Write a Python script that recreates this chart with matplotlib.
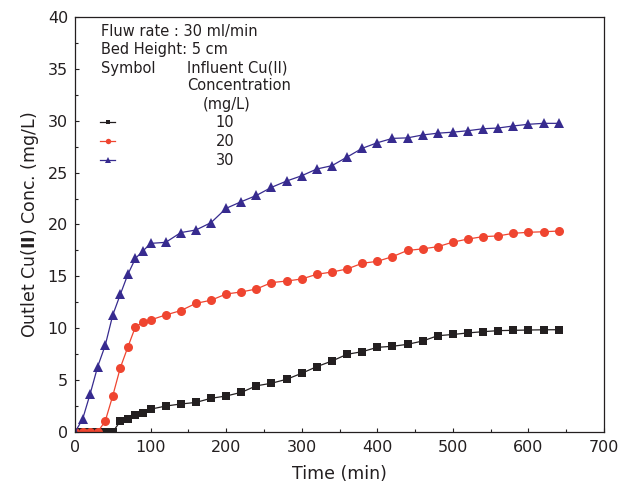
import matplotlib
matplotlib.use("Agg")
import matplotlib.pyplot as plt
from matplotlib.ticker import MultipleLocator

plt.rcParams['font.family'] = ['DejaVu Sans']
plt.rcParams['mathtext.fontset'] = 'dejavusans'

time = [0, 10, 20, 30, 40, 50, 60, 70, 80, 90, 100,
        120, 140, 160, 180, 200, 220, 240, 260, 280, 300,
        320, 340, 360, 380, 400, 420, 440, 460, 480, 500,
        520, 540, 560, 580, 600, 620, 640]

conc_10 = [0, 0, 0, 0, 0, 0, 1.05, 1.3, 1.6, 1.85, 2.2,
           2.5, 2.7, 2.85, 3.25, 3.47, 3.82, 4.45, 4.7, 5.08, 5.66,
           6.3, 6.84, 7.49, 7.74, 8.16, 8.26, 8.45, 8.77, 9.28, 9.4,
           9.55, 9.67, 9.77, 9.8, 9.83, 9.85, 9.86]

conc_20 = [0, 0, 0, 0, 1.05, 3.5, 6.2, 8.2, 10.15, 10.57, 10.8,
           11.28, 11.7, 12.4, 12.7, 13.3, 13.5, 13.78, 14.4, 14.55, 14.75,
           15.2, 15.42, 15.71, 16.26, 16.45, 16.9, 17.5, 17.65, 17.86, 18.3,
           18.6, 18.83, 18.9, 19.15, 19.25, 19.3, 19.37]

conc_30 = [0, 1.22, 3.66, 6.3, 8.35, 11.28, 13.27, 15.2, 16.74, 17.45, 18.18,
           18.28, 19.22, 19.47, 20.18, 21.56, 22.2, 22.8, 23.58, 24.19, 24.7,
           25.35, 25.67, 26.5, 27.34, 27.88, 28.3, 28.35, 28.63, 28.8, 28.9,
           29.04, 29.23, 29.3, 29.5, 29.66, 29.75, 29.75]

labels = ['10', '20', '30']
colors = ['#231f20', '#ef4530', '#372b8f']
markers = ['s', 'o', '^']
msizes = [5.8, 6.5, 7.8]

ink = '#231f20'

fig = plt.figure(figsize=(6.38, 4.86), dpi=100)
ax = fig.add_axes([75/638, 1-432/486, 529/638, 415/486])

handles = []
for y, c, m, ms, lab in zip([conc_10, conc_20, conc_30], colors, markers, msizes, labels):
    h, = ax.plot(time, y, color=c, marker=m, markersize=ms, linewidth=0.9,
                 markeredgewidth=0, label=lab)
    handles.append(h)

ax.set_xlim(0, 700)
ax.set_ylim(0, 40)
ax.xaxis.set_major_locator(MultipleLocator(100))
ax.xaxis.set_minor_locator(MultipleLocator(50))
ax.yaxis.set_major_locator(MultipleLocator(5))
ax.yaxis.set_minor_locator(MultipleLocator(2.5))
ax.tick_params(which='both', direction='in', top=False, right=False,
               labelsize=11.5, colors=ink, width=0.8)
ax.tick_params(which='major', length=3.2)
ax.tick_params(axis='x', which='major', pad=6)
ax.tick_params(axis='y', which='major', pad=5)
ax.tick_params(which='minor', length=2.4)
for s in ax.spines.values():
    s.set_linewidth(0.9)
    s.set_color(ink)

ax.set_xlabel('Time (min)', fontsize=12.5, color=ink, labelpad=7)
ax.set_ylabel(r'Outlet Cu($\mathbf{II}$) Conc. (mg/L)', fontsize=12.5, color=ink, labelpad=5)

tk = dict(transform=ax.transAxes, fontsize=10.5, color=ink, va='center', ha='left')
ax.text(0.049, 0.965, 'Fluw rate : 30 ml/min', **tk)
ax.text(0.049, 0.922, 'Bed Height: 5 cm', **tk)
ax.text(0.049, 0.877, 'Symbol', **tk)
ax.text(0.212, 0.877, 'Influent Cu(II)', **tk)
ax.text(0.212, 0.834, 'Concentration', **tk)
ax.text(0.242, 0.790, '(mg/L)', **tk)

leg = ax.legend(handles=handles, labels=labels, loc='upper left',
                bbox_to_anchor=(0.0473, 0.7646), frameon=False, fontsize=10.5,
                handlelength=1.03, handletextpad=6.9, markerscale=0.6,
                labelspacing=0.3, borderaxespad=0, borderpad=0)
for t in leg.get_texts():
    t.set_color(ink)

fig.savefig('out.png', dpi=100)
